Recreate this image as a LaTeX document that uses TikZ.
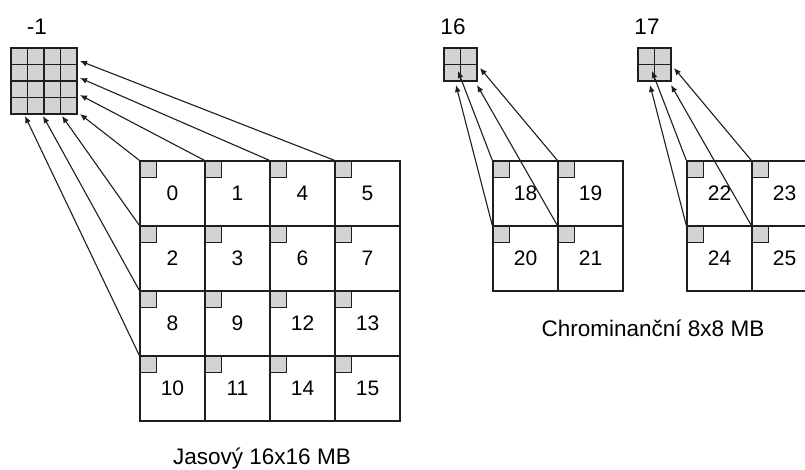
\documentclass[tikz,border=0pt]{standalone}
\usepackage{fontspec}
\setmainfont{Liberation Sans}
\usetikzlibrary{arrows.meta,positioning}
\definecolor{cLine}{HTML}{1E1E1E}
\definecolor{cPix}{HTML}{D3D3D3}
\tikzset{
  mb/.style={draw=cLine, line width=1.5pt, minimum size=65pt, inner sep=0pt,
             font=\fontsize{21}{21}\selectfont},
  pix/.style={draw=cLine, line width=1.5pt, fill=cPix, minimum size=16.5pt, inner sep=0pt},
  ref/.style={-{Latex[length=7pt,width=6pt]}, line width=1.1pt, draw=cLine},
  lbl/.style={font=\fontsize{22.5}{22.5}\selectfont, inner sep=0pt},
}

\begin{document}
\begin{tikzpicture}[x=1pt, y=-1pt]
  \clip (0,0) rectangle (805,470);
  \fill[white] (0,0) rectangle (805,470);

  % luma macroblock, 4x4 blocks
  \foreach \row [count=\r from 0] in {{0,1,4,5},{2,3,6,7},{8,9,12,13},{10,11,14,15}}
    \foreach \n [count=\c from 0] in \row {
      \node[mb] (y\n) at ({172.5+65*\c},{193.5+65*\r}) {\n};
      \node[pix, anchor=north west] (yc\n) at (y\n.north west) {};
    }
  \foreach \r in {0,...,3}
    \foreach \c in {0,...,3}
      \node[pix] (p\r\c) at ({19.25+16.5*\c},{56.25+16.5*\r}) {};
  \node[lbl] (lm1) at (37,27) {-1};
  \node[lbl] (ylab) at (262,459) {Jasový 16x16 MB};

  % neighbours of the left column and top row
  \coordinate (yr0) at (80,61);
  \coordinate (yr1) at (80,78);
  \coordinate (yr2) at (80,95);
  \coordinate (yr3) at (80,114);
  \coordinate (yb0) at (25,116);
  \coordinate (yb1) at (43,116);
  \coordinate (yb2) at (62,116);
  \draw[ref] (y5.north west) -- (yr0);
  \draw[ref] (y4.north west) -- (yr1);
  \draw[ref] (y1.north west) -- (yr2);
  \draw[ref] (y0.north west) -- (yr3);
  \draw[ref] (y2.north west) -- (yb2);
  \draw[ref] (y8.north west) -- (yb1);
  \draw[ref] (y10.north west) -- (yb0);

  % two chroma macroblocks, 2x2 blocks each
  \foreach \k/\dx/\a/\b/\e/\f in {16/0/18/19/20/21, 17/194/22/23/24/25} {
    \node[mb] (c\a) at ({525.5+\dx},193.5) {\a};
    \node[mb] (c\b) at ({590.5+\dx},193.5) {\b};
    \node[mb] (c\e) at ({525.5+\dx},258.5) {\e};
    \node[mb] (c\f) at ({590.5+\dx},258.5) {\f};
    \foreach \n in {\a,\b,\e,\f}
      \node[pix, anchor=north west] (cc\n) at (c\n.north west) {};
    \foreach \r in {0,1}
      \foreach \c in {0,1}
        \node[pix] (q\k\r\c) at ({452.25+\dx+16.5*\c},{56.25+16.5*\r}) {};
    \node[lbl] (l\k) at ({453+\dx},27) {\k};
    \coordinate (t\a) at ({458+\dx},71);
    \coordinate (t\b) at ({480+\dx},68);
    \coordinate (t\e) at ({456+\dx},85);
    \coordinate (t\f) at ({477+\dx},85);
    \draw[ref] (c\e.north west) -- (t\e);
    \draw[ref] (c\a.north west) -- (t\a);
    \draw[ref] (c\f.north west) -- (t\f);
    \draw[ref] (c\b.north west) -- (t\b);
  }
  \node[lbl] (clab) at (653,328) {Chrominanční 8x8 MB};
\end{tikzpicture}
\end{document}
